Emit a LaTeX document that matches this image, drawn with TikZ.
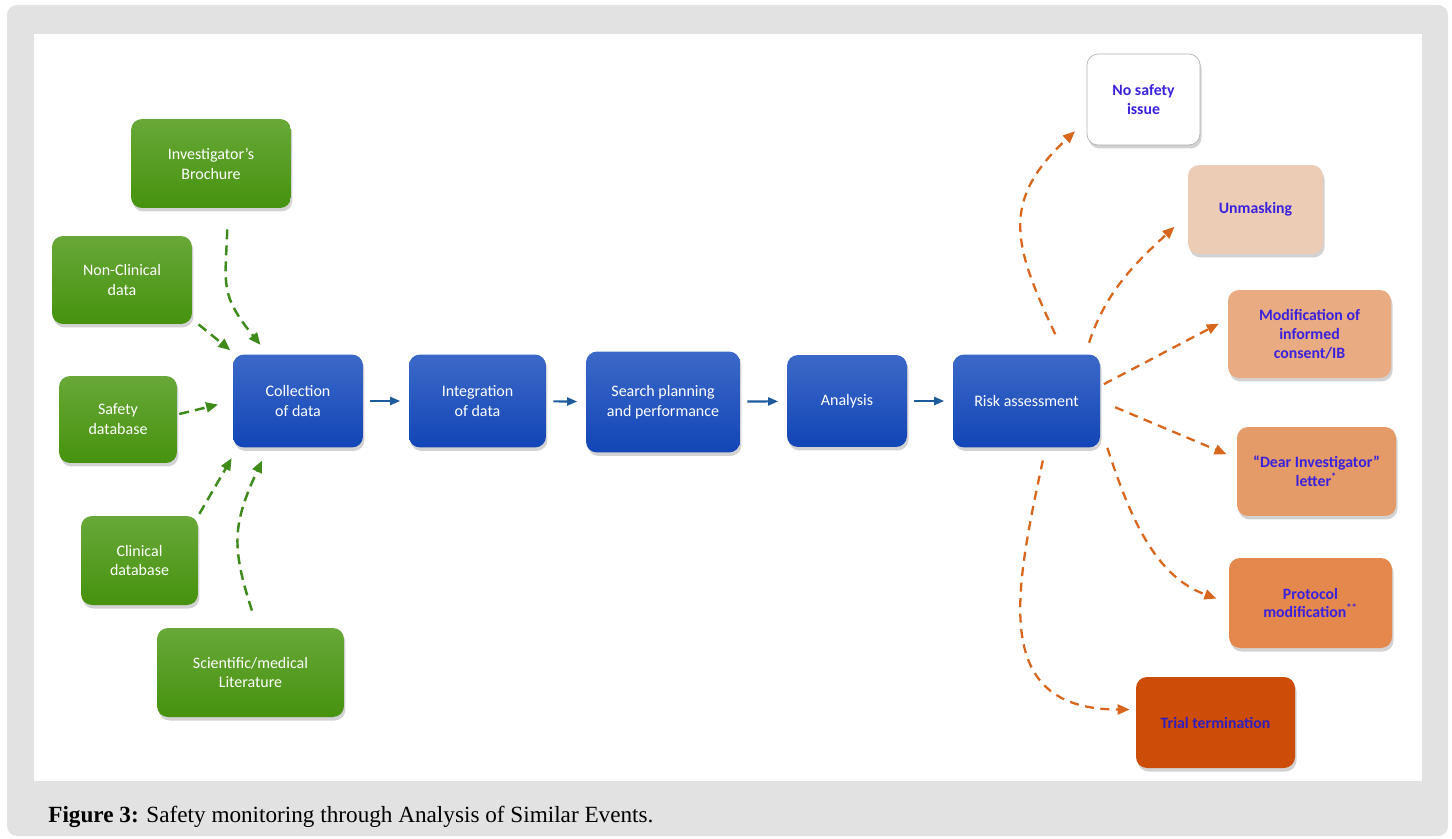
\documentclass[tikz,border=0pt]{standalone}
\usepackage{fontspec}
\setmainfont{Liberation Serif}
\newfontfamily\boxfont{Carlito}
\usetikzlibrary{arrows.meta,shadows}
\definecolor{framegray}{HTML}{E2E2E2}
\definecolor{greentop}{HTML}{68A838}
\definecolor{greenbot}{HTML}{46920E}
\definecolor{bluetop}{HTML}{3C69C8}
\definecolor{bluebot}{HTML}{1245B6}
\definecolor{arrowgreen}{HTML}{3E8A1A}
\definecolor{arrowblue}{HTML}{1E5B9C}
\definecolor{arroworange}{HTML}{D8661C}
\definecolor{outtext}{HTML}{3A22DD}
\definecolor{unmfill}{HTML}{ECCCB5}
\definecolor{modfill}{HTML}{E8AB82}
\definecolor{dearfill}{HTML}{E59B67}
\definecolor{protfill}{HTML}{E4884D}
\definecolor{trialfill}{HTML}{CD4D08}
\begin{document}
\begin{tikzpicture}[x=0.02cm, y=-0.02cm,
    box/.style={rounded corners=0.22cm, inner sep=0pt, align=center,
      font=\boxfont\fontsize{9.1}{11.3}\selectfont,
      drop shadow={shadow xshift=0.03cm, shadow yshift=-0.07cm, opacity=0.35}},
    greenbox/.style={box, top color=greentop, bottom color=greenbot, text=white},
    bluebox/.style={box, top color=bluetop, bottom color=bluebot, text=white},
    outbox/.style={box, font=\boxfont\bfseries\fontsize{9}{10.8}\selectfont, text=outtext},
    gflow/.style={draw=arrowgreen, line width=1.4pt, dash pattern=on 0.2cm off 0.12cm,
      -{Triangle[length=0.24cm,width=0.2cm]}},
    oflow/.style={draw=arroworange, line width=1.3pt, dash pattern=on 0.18cm off 0.13cm,
      -{Triangle[length=0.24cm,width=0.2cm]}},
    bflow/.style={draw=arrowblue, line width=1.2pt, shorten <=0.14cm, shorten >=0.17cm,
      -{Triangle[length=0.2cm,width=0.16cm]}}]
	\useasboundingbox (0,0) rectangle (1452,838);
	\fill[framegray, rounded corners=0.2cm] (7,5) rectangle (1448,836);
	\fill[white] (34,34) rectangle (1422,781);

	% sources
	\node[greenbox, minimum width=3.2cm, minimum height=1.78cm] (ib) at (211,163.5) {Investigator’s\\Brochure};
	\node[greenbox, minimum width=2.8cm, minimum height=1.76cm] (ncd) at (122,280) {Non-Clinical\\data};
	\node[greenbox, minimum width=2.36cm, minimum height=1.74cm] (sdb) at (118,419.5) {Safety\\database};
	\node[greenbox, minimum width=2.34cm, minimum height=1.78cm] (cdb) at (139.5,560.5) {Clinical\\database};
	\node[greenbox, minimum width=3.74cm, minimum height=1.78cm] (sml) at (250.5,672.5) {Scientific/medical\\Literature};

	% process
	\node[bluebox, minimum width=2.6cm, minimum height=1.86cm] (col) at (298,401) {Collection\\of data};
	\node[bluebox, minimum width=2.74cm, minimum height=1.86cm] (integ) at (477.5,401) {Integration\\of data};
	\node[bluebox, minimum width=3.08cm, minimum height=2.02cm] (search) at (663,402) {Search planning\\and performance};
	\node[bluebox, minimum width=2.4cm, minimum height=1.84cm] (anal) at (847,401) {Analysis};
	\node[bluebox, minimum width=2.94cm, minimum height=1.86cm] (risk) at (1026.5,401) {Risk assessment};

	% outcomes
	\node[outbox, fill=white, draw=black!30, minimum width=2.26cm, minimum height=1.82cm] (nsi) at (1143.5,99.5) {No safety\\issue};
	\node[outbox, fill=unmfill, minimum width=2.7cm, minimum height=1.78cm] (unm) at (1255.5,209.5) {Unmasking};
	\node[outbox, fill=modfill, minimum width=3.26cm, minimum height=1.76cm] (modif) at (1309.5,334) {Modification of\\informed\\consent/IB};
	\node[outbox, fill=dearfill, minimum width=3.18cm, minimum height=1.78cm] (dear) at (1316.5,471.5) {“Dear Investigator”\\letter\textsuperscript{*}};
	\node[outbox, fill=protfill, minimum width=3.26cm, minimum height=1.8cm] (prot) at (1310.5,603) {Protocol\\modification\textsuperscript{**}};
	\node[outbox, fill=trialfill, text=outtext!85!black, minimum width=3.18cm, minimum height=1.82cm] (trial) at (1215.5,722.5) {Trial termination};

	\draw[gflow, shorten <=0.42cm, shorten >=0.24cm] ([xshift=0.34cm]ib.south) to[out=-92, in=129, looseness=1.3] ([xshift=-0.6cm]col.north);
	\draw[gflow, shorten <=0.16cm, shorten >=0.06cm] ([yshift=0.1cm]ncd.south east) -- ([yshift=0.04cm]col.north west);
	\draw[gflow, shorten <=0.04cm, shorten >=0.3cm] ([yshift=0.1cm]sdb.east) -- (col.west);
	\draw[gflow, shorten <=0.04cm, shorten >=0.24cm] (cdb.north east) -- ([xshift=0.1cm]col.south west);
	\draw[gflow, shorten <=0.36cm, shorten >=0.28cm] ([xshift=0.14cm]sml.north) to[out=108, in=-115, looseness=1.2] ([xshift=-0.6cm]col.south);

	\draw[bflow] (col) -- (integ);
	\draw[bflow] (integ) -- (search);
	\draw[bflow] (search) -- (anal);
	\draw[bflow] (anal) -- (risk);

	\draw[oflow, shorten <=0.44cm, shorten >=0.32cm] ([xshift=0.76cm]risk.north) to[out=115, in=-137, looseness=1.3] ([yshift=0.5cm]nsi.south west);
	\draw[oflow, shorten <=0.24cm, shorten >=0.36cm] ([xshift=-0.3cm]risk.north east) to[out=72, in=-137] ([yshift=-0.1cm]unm.west);
	\draw[oflow, shorten <=0.08cm, shorten >=0.2cm] ([yshift=0.3cm]risk.east) -- ([yshift=0.3cm]modif.west);
	\draw[oflow, shorten <=0.32cm, shorten >=0.22cm] (risk.east) -- ([yshift=0.26cm]dear.west);
	\draw[oflow, shorten >=0.26cm] ([xshift=0.14cm]risk.south east) to[out=-72, in=160] (prot.west);
	\draw[oflow, shorten <=0.26cm, shorten >=0.12cm] ([xshift=0.38cm]risk.south) to[out=-102, in=180, looseness=1.35] ([yshift=0.26cm]trial.west);

	\node[anchor=base west, inner sep=0pt, font=\fontsize{13.2}{15}\selectfont] (cap) at (48,822) {\textbf{Figure 3:} Safety monitoring through Analysis of Similar Events.};
\end{tikzpicture}
\end{document}
